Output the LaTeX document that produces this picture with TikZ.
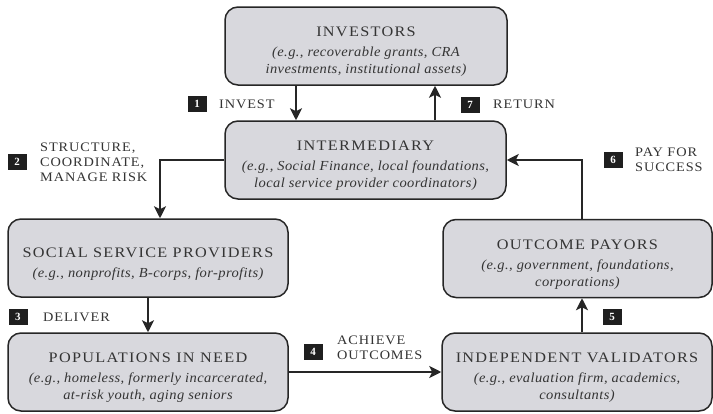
\documentclass[tikz,border=0pt]{standalone}
\usepackage{fontspec}
\setmainfont{Liberation Serif}
\newfontfamily\capsfont[LetterSpace=9,FakeStretch=1.12]{Liberation Serif}
\newfontfamily\labelfont[LetterSpace=7,FakeStretch=1.1]{Liberation Serif}
\newfontfamily\notefont[LetterSpace=3,FakeStretch=1.05]{Liberation Serif}
\usetikzlibrary{arrows.meta}

\definecolor{boxfill}{RGB}{216,216,221}
\definecolor{ink}{RGB}{38,38,38}
\definecolor{textgray}{RGB}{52,52,52}

% the strut in the title line keeps the text block a little below the box centre
\newcommand\boxtitle{\capsfont\upshape\fontsize{14.5pt}{17pt}\selectfont\rule{0pt}{21pt}}
\newcommand\boxnote{\notefont\itshape\fontsize{13.8pt}{17pt}\selectfont}
\newcommand\flowlabel{\labelfont\fontsize{13pt}{15pt}\selectfont}
\newcommand\badgefont{\bfseries\fontsize{11pt}{12pt}\selectfont}

\tikzset{
  block/.style={draw=ink, line width=1.5pt, fill=boxfill, rounded corners=13pt,
    inner sep=0pt, align=center, text=textgray, font=\boxnote},
  flow/.style={draw=ink, line width=2.6pt,
    -{Stealth[length=12pt,width=12pt,inset=3pt]}},
  badge/.style={fill=black!88, text=white, font=\badgefont,
    minimum width=19pt, minimum height=16pt, inner sep=0pt},
  flowtext/.style={text=textgray, font=\flowlabel, align=left,
    inner sep=0pt, anchor=west},
}

\begin{document}
\begin{tikzpicture}[x=1pt,y=-1pt]
  \fill[white] (0,0) rectangle (713,413);
  \useasboundingbox (0,0) rectangle (713,413);

  % actors
  \node[block, minimum width=282pt, minimum height=78pt] (inv) at (366,46)
    {{\boxtitle INVESTORS}\\[3pt](e.g., recoverable grants, CRA\\investments, institutional assets)};
  \node[block, minimum width=281pt, minimum height=78pt] (int) at (365.5,160)
    {{\boxtitle INTERMEDIARY}\\[3pt](e.g., Social Finance, local foundations,\\local service provider coordinators)};
  \node[block, minimum width=280pt, minimum height=78pt] (ssp) at (148,258)
    {{\boxtitle SOCIAL SERVICE PROVIDERS}\\[3pt](e.g., nonprofits, B-corps, for-profits)};
  \node[block, minimum width=269pt, minimum height=78pt] (op) at (577.5,258.5)
    {{\boxtitle OUTCOME PAYORS}\\[3pt](e.g., government, foundations,\\corporations)};
  \node[block, minimum width=280pt, minimum height=78pt] (pop) at (148,372)
    {{\boxtitle POPULATIONS IN NEED}\\[3pt](e.g., homeless, formerly incarcerated,\\at-risk youth, aging seniors};
  \node[block, minimum width=270pt, minimum height=78pt] (val) at (577,372)
    {{\boxtitle INDEPENDENT VALIDATORS}\\[3pt](e.g., evaluation firm, academics,\\consultants)};

  % x positions of the vertical flows
  \coordinate (xinvest) at (296,0);
  \coordinate (xreturn) at (435,0);
  \coordinate (xstruct) at (160,0);
  \coordinate (xpay) at (582,0);

  % flows
  \draw[flow] (inv.south -| xinvest) -- (int.north -| xinvest);
  \draw[flow] (int.north -| xreturn) -- (inv.south -| xreturn);
  \draw[flow] (int.west) -| (ssp.north -| xstruct);
  \draw[flow] (op.north -| xpay) |- (int.east);
  \draw[flow] (ssp.south) -- (pop.north);
  \draw[flow] (pop.east) -- (val.west);
  \draw[flow] (val.north -| xpay) -- (op.south -| xpay);

  % numbered step labels
  \node[badge] (b1) at (197,104) {1};
  \node[flowtext] (t1) at (219,104) {INVEST};
  \node[badge] (b7) at (470,104.5) {7};
  \node[flowtext] (t7) at (493,104.5) {RETURN};
  \node[badge] (b2) at (17,162) {2};
  \node[flowtext] (t2) at (40,162) {STRUCTURE,\\COORDINATE,\\MANAGE RISK};
  \node[badge] (b6) at (613,159.5) {6};
  \node[flowtext] (t6) at (635,159.5) {PAY FOR\\SUCCESS};
  \node[badge] (b3) at (18,317) {3};
  \node[flowtext] (t3) at (43,317) {DELIVER};
  \node[badge] (b4) at (313,352) {4};
  \node[flowtext] (t4) at (337,348) {ACHIEVE\\OUTCOMES};
  \node[badge] (b5) at (612,317) {5};
\end{tikzpicture}
\end{document}
